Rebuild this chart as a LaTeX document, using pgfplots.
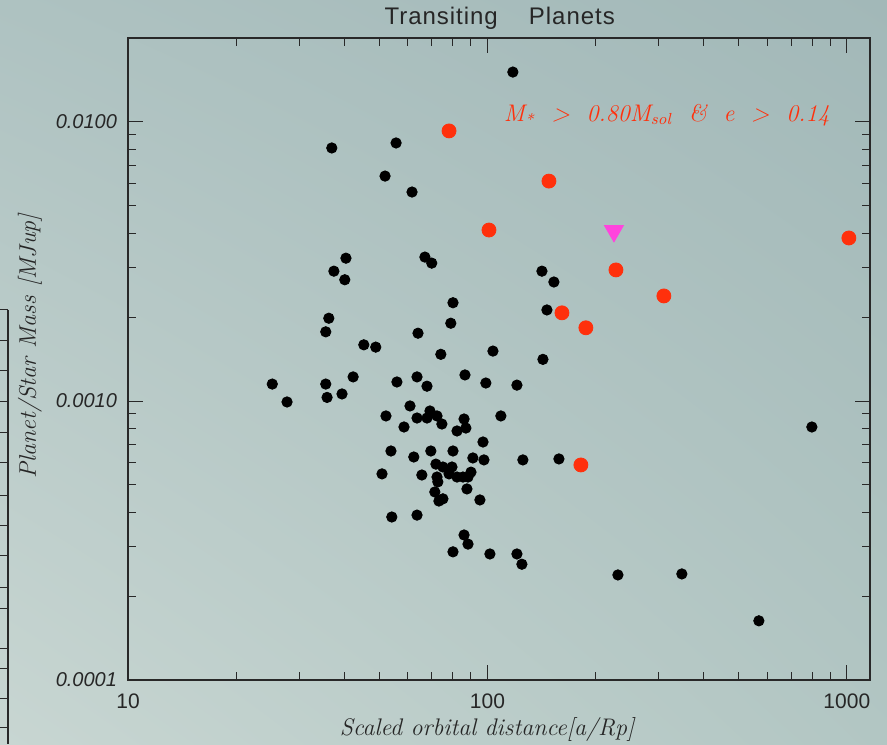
\documentclass[border=0pt]{standalone}
\usepackage{pgfplots}
\pgfplotsset{compat=1.18}
\usepackage{fontspec}
\setsansfont{Liberation Sans}
\usetikzlibrary{backgrounds,shadings}
\definecolor{bgLL}{RGB}{200,214,210}
\definecolor{bgUR}{RGB}{162,184,184}
\definecolor{bgUL}{RGB}{174,194,193}
\definecolor{bgLR}{RGB}{178,198,195}
\definecolor{redpt}{RGB}{255,48,12}
\definecolor{magpt}{RGB}{255,68,221}
\definecolor{axcol}{RGB}{40,40,40}
\begin{document}
\begin{tikzpicture}
\begin{axis}[
  name=ax,
  xmode=log, ymode=log,
  xmin=10, xmax=1160, ymin=1e-4, ymax=0.02,
  scale only axis, width=371pt, height=321pt,
  axis line style={axcol, line width=0.8pt},
  every tick/.style={axcol, line width=0.5pt},
  tick align=inside,
  major tick length=7.5pt, minor tick length=4pt,
  xtick={10,100,1000}, xticklabels={10,100,1000},
  minor xtick={20,30,40,50,60,70,80,90,200,300,400,500,600,700,800,900},
  ytick={0.0001,0.001,0.01}, yticklabels={0.0001,0.0010,0.0100},
  minor ytick={2e-4,3e-4,4e-4,5e-4,6e-4,7e-4,8e-4,9e-4,2e-3,3e-3,4e-3,5e-3,6e-3,7e-3,8e-3,9e-3},
  xticklabel style={font=\sffamily\fontsize{10.5}{12}\selectfont, text=black!85, yshift=-3.5pt},
  yticklabel style={font=\sffamily\itshape\fontsize{10}{12}\selectfont, text=black!85, xshift=-2pt},
  clip=true,
]
\addplot[only marks, mark=*, mark size=2.6pt, black] table {
x y
117.7 0.01510
36.9 0.00807
55.7 0.00841
51.9 0.00640
61.7 0.00561
67.0 0.00328
70.0 0.00312
40.4 0.00325
37.4 0.00292
40.1 0.00272
141.8 0.00292
153.1 0.00267
80.2 0.00225
146.4 0.00212
36.2 0.00198
35.5 0.00177
64.1 0.00175
79.1 0.00190
45.3 0.00159
48.9 0.00156
74.2 0.00147
103.6 0.00151
142.7 0.00141
25.2 0.00115
27.7 0.000992
35.5 0.00115
35.8 0.00103
39.4 0.00106
42.3 0.00122
56.0 0.00117
63.7 0.00122
67.9 0.00113
86.6 0.00124
99.0 0.00116
120.8 0.00114
60.9 0.000960
52.2 0.000884
69.2 0.000921
63.7 0.000869
67.9 0.000869
72.4 0.000884
58.6 0.000807
74.7 0.000827
86.1 0.000862
87.1 0.000800
82.3 0.000781
109.0 0.000884
97.2 0.000713
53.9 0.000662
62.4 0.000630
69.6 0.000662
80.2 0.000662
91.1 0.000625
97.8 0.000615
125.5 0.000615
158.1 0.000620
50.9 0.000548
65.7 0.000543
71.9 0.000594
75.2 0.000580
79.7 0.000580
90.0 0.000556
72.4 0.000534
78.2 0.000548
82.3 0.000534
85.5 0.000534
88.3 0.000534
72.8 0.000513
87.7 0.000484
71.4 0.000472
73.3 0.000438
75.2 0.000446
95.3 0.000442
54.2 0.000384
63.7 0.000390
86.1 0.000331
88.3 0.000307
80.2 0.000288
101.6 0.000283
120.8 0.000283
124.7 0.000260
230.7 0.000238
347.5 0.000240
569.1 0.000163
799.3 0.000807
};
\addplot[only marks, mark=*, mark size=3.5pt, redpt] table {
x y
78.2 0.00929
148.3 0.00614
101.0 0.00410
227.8 0.00295
309.7 0.00238
161.2 0.00207
187.9 0.00183
1013 0.00384
182.0 0.000590
244.3 0.0000921
};
\addplot[only marks, mark=triangle*, mark size=5.5pt, magpt, mark options={rotate=180}] table {
x y
224.9 0.00407
};
\coordinate (sw) at (rel axis cs:0,0);
\coordinate (ne) at (rel axis cs:1,1);
\coordinate (ttl) at (rel axis cs:0.501,1);
\coordinate (xl) at (rel axis cs:0.484,0);
\coordinate (yl) at (rel axis cs:0,0.52);
\coordinate (ann) at (rel axis cs:0.726,0.880);
\end{axis}
\node[font=\sffamily\fontsize{12}{14}\selectfont, text=black!85] at ([yshift=10pt]ttl) {\addfontfeatures{LetterSpace=4}Transiting\hspace{1.3em}Planets};
\node[font=\itshape\fontsize{12}{14}\selectfont, text=black!85] at ([yshift=-24.5pt]xl) {\addfontfeatures{LetterSpace=6}Scaled orbital distance[a/Rp]};
\node[font=\itshape\fontsize{12}{14}\selectfont, text=black!85, rotate=90] at ([xshift=-49pt]yl) {\addfontfeatures{LetterSpace=6}Planet/Star\hspace{0.4em}Mass\hspace{0.4em}[MJup]};
\node[font=\itshape\fontsize{12}{14}\selectfont, text=redpt] at (ann) {\addfontfeatures{LetterSpace=6}M\textsubscript{*}\hspace{0.7em}>\hspace{0.7em}0.80M\textsubscript{sol}\hspace{0.7em}\&\hspace{0.7em}e\hspace{0.7em}>\hspace{0.7em}0.14};
% partial axis of a neighbouring panel at the left edge
\draw[axcol, line width=0.6pt] ([xshift=-60pt,yshift=185pt]sw) -- ([xshift=-60pt,yshift=-32pt]sw);
\foreach \t in {185,169.5,154.5,139,124,109,92.5,77.5,62.5,46.5,36,16,6,-9,-23.5}
  \draw[axcol, line width=0.5pt] ([xshift=-64pt,yshift=\t pt]sw) -- ([xshift=-60pt,yshift=\t pt]sw);
\pgfresetboundingbox
\path ([xshift=-64pt,yshift=-32pt]sw) rectangle ([xshift=8.5pt,yshift=19pt]ne);
\begin{scope}[on background layer]
\shade[lower left=bgLL, upper right=bgUR, upper left=bgUL, lower right=bgLR]
  ([xshift=-64pt,yshift=-32pt]sw) rectangle ([xshift=8.5pt,yshift=19pt]ne);
\end{scope}
\end{tikzpicture}
\end{document}
